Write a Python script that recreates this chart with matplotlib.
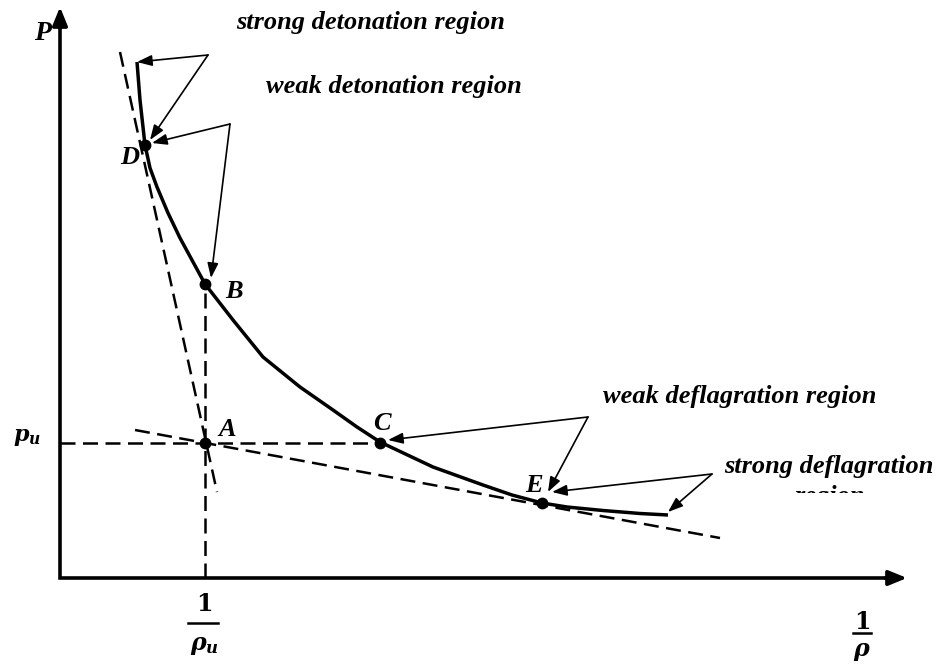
import matplotlib.pyplot as plt
from matplotlib.patches import Rectangle

plt.rcParams["mathtext.fontset"] = "custom"
plt.rcParams["mathtext.rm"] = "DejaVu Serif:bold"
plt.rcParams["mathtext.it"] = "DejaVu Serif:italic:bold"
plt.rcParams["mathtext.bf"] = "DejaVu Serif:italic:bold"

# diagram units: x = specific volume 1/rho, y = pressure (origin at axes corner)
# Hugoniot curve
curve_x = [0.77, 0.80, 0.85, 0.90, 0.97, 1.08, 1.20, 1.45, 1.73, 2.03, 2.40, 2.73,
           2.97, 3.20, 3.73, 4.23, 4.52, 4.82, 5.07, 5.43, 5.80, 6.08]
curve_y = [5.16, 4.78, 4.33, 4.10, 3.91, 3.65, 3.40, 2.94, 2.58, 2.21, 1.91, 1.68,
           1.51, 1.36, 1.11, 0.93, 0.83, 0.75, 0.71, 0.675, 0.645, 0.63]

# labelled states
point_names = ["D", "B", "A", "C", "E"]
point_x = [0.85, 1.45, 1.45, 3.20, 4.82]
point_y = [4.33, 2.94, 1.35, 1.35, 0.75]

# Rayleigh lines through A (dashed)
steep_x = [0.60, 1.57]
steep_y = [5.26, 0.86]
shallow_x = [0.75, 6.60]
shallow_y = [1.48, 0.40]

# region annotations: text, text position, arrow vertex, arrow tips
region_labels = ["strong detonation region", "weak detonation region",
                 "weak deflagration region", "strong deflagration"]
label_pos = [(1.76, 5.56), (2.06, 4.91), (5.43, 1.82), (6.64, 1.12)]
vertex_pos = [(1.48, 5.23), (1.70, 4.54), (5.28, 1.61), (6.52, 1.04)]
tip_pos = [[(0.77, 5.16), (0.90, 4.38)],
           [(0.92, 4.35), (1.51, 3.00)],
           [(3.28, 1.38), (4.88, 0.86)],
           [(4.92, 0.86), (6.08, 0.66)]]

fig = plt.figure(figsize=(9.4, 6.66), dpi=100)
ax = fig.add_axes([0, 0, 1, 1])
ax.set_xlim(-0.60, 8.80)
ax.set_ylim(-0.88, 5.78)
ax.axis("off")

# axes with arrow heads
ax.plot([0, 0, 8.35], [5.60, 0, 0], color="black", lw=2.6, solid_joinstyle="miter")
head_kw = dict(arrowstyle="-|>,head_length=1.1,head_width=0.45", lw=2.6, color="black",
               shrinkA=0, shrinkB=0)
ax.annotate("", xy=(0, 5.71), xytext=(0, 5.50), arrowprops=head_kw)
ax.annotate("", xy=(8.47, 0), xytext=(8.25, 0), arrowprops=head_kw)

dash = (0, (6.0, 3.0))
ax.plot(steep_x, steep_y, color="black", lw=1.8, ls=dash)
ax.plot(shallow_x, shallow_y, color="black", lw=1.8, ls=dash)
ax.plot([0, point_x[3]], [point_y[2], point_y[3]], color="black", lw=1.8, ls=dash)
ax.plot([point_x[1], point_x[1]], [0, point_y[1]], color="black", lw=1.8, ls=dash)

ax.plot(curve_x, curve_y, color="black", lw=2.5, solid_capstyle="butt",
        solid_joinstyle="round", zorder=3)
ax.plot(point_x, point_y, "o", color="black", ms=7.5, zorder=4)

label_font = dict(family="Liberation Serif", weight="bold", style="italic")
name_offsets = [(-0.15, -0.12), (0.29, -0.07), (0.22, 0.13), (0.02, 0.20), (-0.08, 0.17)]
for name, x, y, off in zip(point_names, point_x, point_y, name_offsets):
    ax.text(x + off[0], y + off[1], name, fontsize=19, ha="center", va="center",
            **label_font)

arrow_kw = dict(arrowstyle="-|>,head_length=0.9,head_width=0.33", lw=1.2, color="black",
                shrinkA=0, shrinkB=0)
for text, tpos, vpos, tips in zip(region_labels, label_pos, vertex_pos, tip_pos):
    ax.text(tpos[0], tpos[1], text, fontsize=19, ha="left", va="center", **label_font)
    for tip in tips:
        ax.annotate("", xy=tip, xytext=vpos, arrowprops=arrow_kw)

# second line of the last label is cut off in the original
ax.text(7.70, 0.755, "region", fontsize=19, ha="center", va="baseline", **label_font)
ax.add_patch(Rectangle((7.15, 0.45), 1.10, 0.40, facecolor="white", edgecolor="none",
                       zorder=5))

# axis labels
ax.text(-0.17, 5.45, "P", fontsize=20, ha="center", va="center", **label_font)
ax.text(-0.33, 1.40, r"$p_u$", fontsize=16, ha="center", va="center")

ax.text(1.44, -0.26, r"$1$", fontsize=17, ha="center", va="center")
ax.plot([1.28, 1.58], [-0.45, -0.45], color="black", lw=1.8)
ax.text(1.44, -0.67, r"$\rho_u$", fontsize=17, ha="center", va="center")

ax.text(8.02, -0.44, r"$1$", fontsize=17, ha="center", va="center")
ax.plot([7.93, 8.11], [-0.55, -0.55], color="black", lw=1.8)
ax.text(8.02, -0.73, r"$\rho$", fontsize=17, ha="center", va="center")

fig.savefig("out.png", dpi=100)
